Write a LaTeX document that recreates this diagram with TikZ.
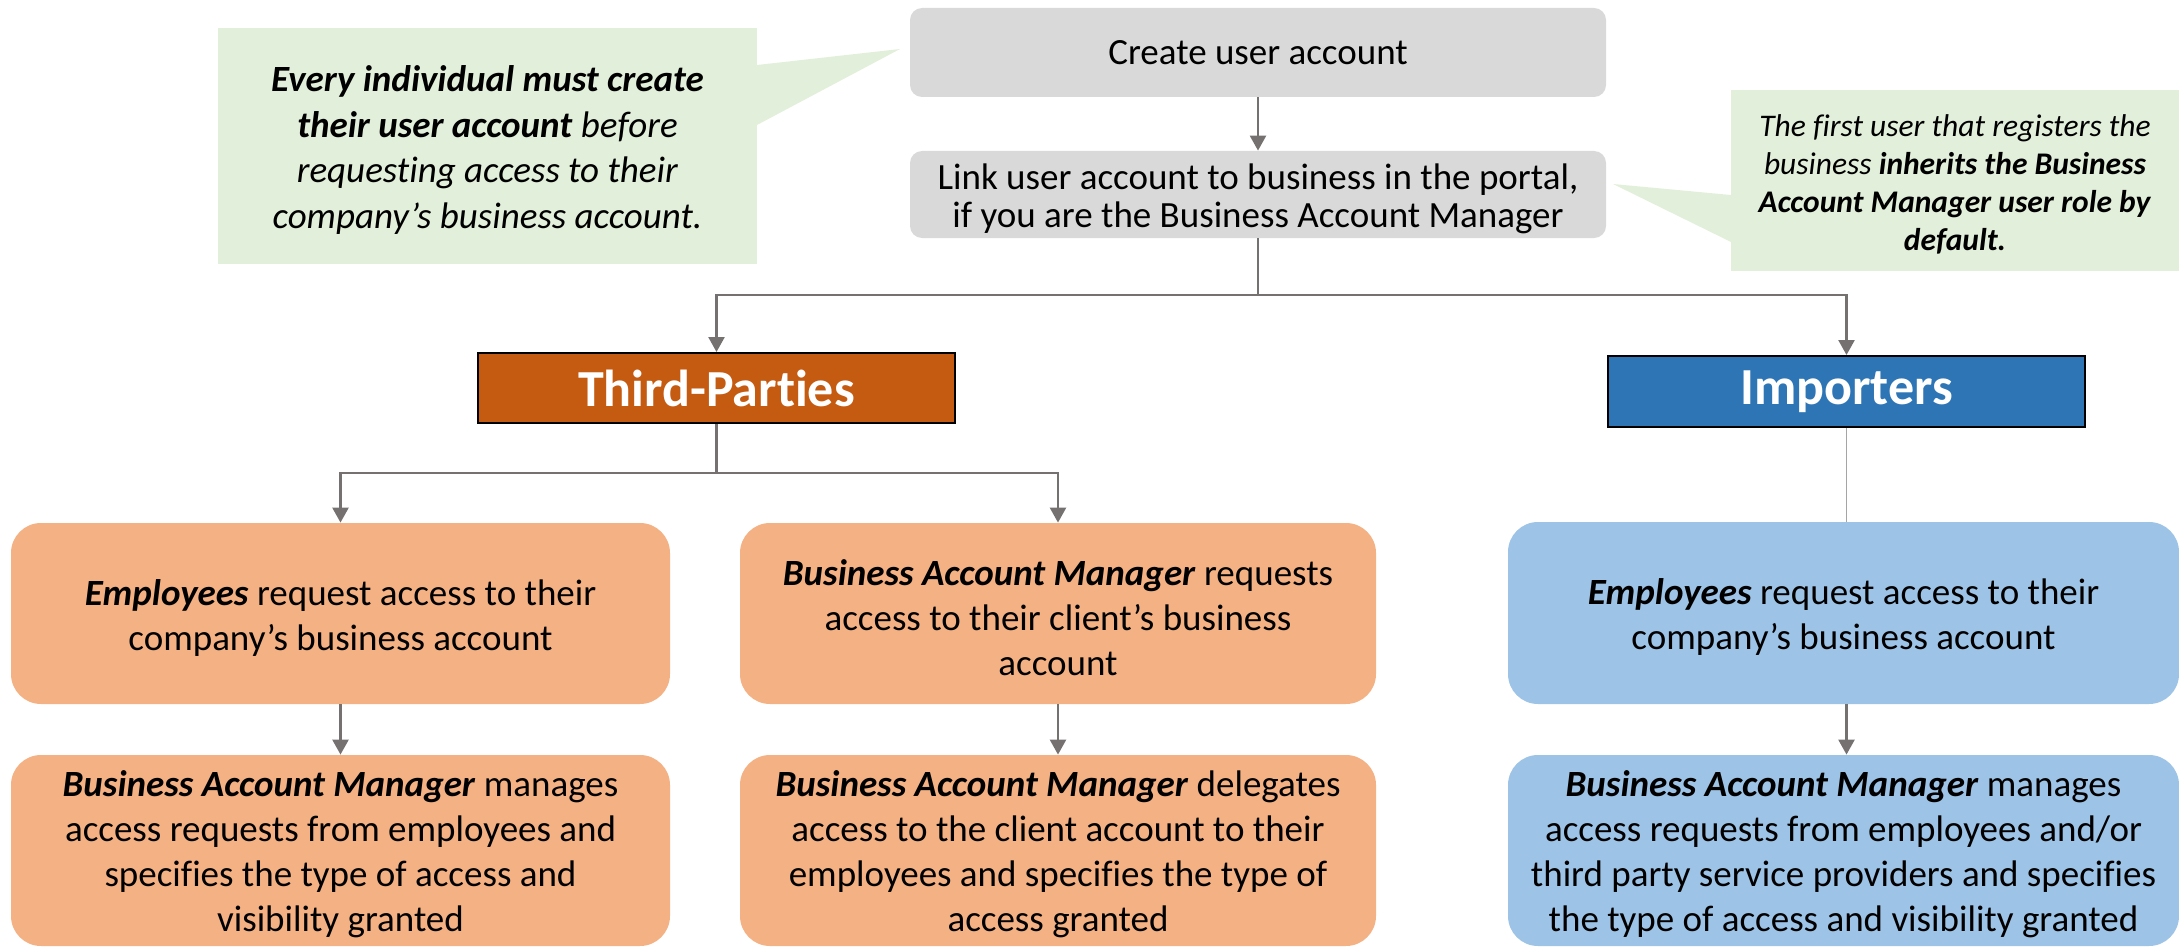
\documentclass[tikz,border=0pt]{standalone}
\usepackage{fontspec}
\setmainfont{Carlito}[Ligatures={NoCommon,NoContextual},Contextuals=NoAlternate]
\usetikzlibrary{arrows.meta}
\definecolor{graybox}{HTML}{D9D9D9}
\definecolor{greencall}{HTML}{E2EFDA}
\definecolor{tpfill}{HTML}{C55A11}
\definecolor{impfill}{HTML}{2E75B6}
\definecolor{orangebox}{HTML}{F4B183}
\definecolor{bluebox}{HTML}{9DC3E6}
\definecolor{connc}{RGB}{118,113,113}
\definecolor{thinc}{RGB}{165,165,165}
\tikzset{
  graynode/.style={fill=graybox, rounded corners=6pt, align=center, inner sep=0pt,
    font=\fontsize{18.5pt}{19pt}\selectfont},
  callout/.style={fill=greencall, align=center, inner sep=0pt},
  headnode/.style={draw=black, line width=1pt, align=center, inner sep=0pt, text=white,
    font=\fontsize{26pt}{30pt}\selectfont\bfseries},
  stagebox/.style={rounded corners=15pt, align=center, inner sep=0pt,
    font=\fontsize{18.5pt}{22.5pt}\selectfont},
  conn/.style={draw=connc, line width=1.25pt},
  arr/.style={conn, -{Triangle[length=7.5pt,width=8pt]}},
  thinline/.style={draw=thinc, line width=0.8pt}
}
\newcommand{\bi}[1]{\textbf{\textit{#1}}}
\newcommand{\sd}{\rule{0pt}{17pt}}
\newcommand{\sds}{\rule{0pt}{15pt}}
\begin{document}
\begin{tikzpicture}[x=0.5pt,y=-0.5pt]
\useasboundingbox (0,0) rectangle (2179,947);
\begin{scope}
\clip (0,0) rectangle (2179,947);
% callouts
\fill[greencall] (757,65) -- (900,49) -- (757,125) -- cycle;
\node[callout, minimum width=269.5pt, minimum height=118pt,
  font=\fontsize{18.5pt}{22.75pt}\selectfont] (callL) at (487.5,146)
  {\sd\bi{Every individual must create}\\ \bi{their user account} \textit{before}\\
   \textit{requesting access to their}\\ \textit{company’s business account.}};
\fill[greencall] (1731,195) -- (1613,184) -- (1731,242) -- cycle;
\node[callout, minimum width=224pt, minimum height=90.5pt,
  font=\fontsize{15.75pt}{18.9pt}\selectfont] (callR) at (1955,180.5)
  {\sds\textit{The first user that registers the}\\ \textit{business} \bi{inherits the Business}\\
   \bi{Account Manager user role by}\\ \bi{default.}};
% top flow
\node[graynode, minimum width=348pt, minimum height=44.5pt] (create) at (1258,52.5)
  {Create user account};
\node[graynode, minimum width=348pt, minimum height=43.5pt] (link) at (1258,194.5)
  {\sd Link user account to business in the portal,\\ if you are the Business Account Manager};
% headers
\node[headnode, fill=tpfill, minimum width=238.5pt, minimum height=35pt] (tp) at (716.5,388)
  {Third-Parties};
\node[headnode, fill=impfill, minimum width=238.5pt, minimum height=35.5pt] (imp) at (1846.5,391.5)
  {Importers};
% stage boxes
\node[stagebox, fill=orangebox, minimum width=329.5pt, minimum height=90.5pt] (o1) at (340.5,613.5)
  {\sd\bi{Employees} request access to their\\ company’s business account};
\node[stagebox, fill=orangebox, minimum width=329.5pt, minimum height=95.5pt] (o2) at (340.5,850.5)
  {\sd\bi{Business Account Manager} manages\\ access requests from employees and\\
   specifies the type of access and\\ visibility granted};
\node[stagebox, fill=orangebox, minimum width=318pt, minimum height=90.5pt] (o3) at (1058,613.5)
  {\sd\bi{Business Account Manager} requests\\ access to their client’s business\\ account};
\node[stagebox, fill=orangebox, minimum width=318pt, minimum height=95.5pt] (o4) at (1058,850.5)
  {\sd\bi{Business Account Manager} delegates\\ access to the client account to their\\
   employees and specifies the type of\\ access granted};
\node[stagebox, fill=bluebox, minimum width=335.5pt, minimum height=91pt] (b1) at (1843.5,613)
  {\sd\bi{Employees} request access to their\\ company’s business account};
\node[stagebox, fill=bluebox, minimum width=335.5pt, minimum height=95.5pt] (b2) at (1843.5,850.5)
  {\sd\bi{Business Account Manager} manages\\ access requests from employees and/or\\
   third party service providers and specifies\\ the type of access and visibility granted};
% connectors
\coordinate (j1) at (1258,295);
\coordinate (j2) at (716.5,473);
\draw[arr] (create) -- (link);
\draw[conn] (link.south) -- (j1);
\draw[arr] (j1) -| (tp.north);
\draw[arr] (j1) -| (imp.north);
\draw[conn] (tp.south) -- (j2);
\draw[arr] (j2) -| (o1.north);
\draw[arr] (j2) -| (o3.north);
\draw[thinline] (imp.south) -- (imp.south |- b1.north);
\draw[arr] (o1) -- (o2);
\draw[arr] (o3) -- (o4);
\draw[arr] (imp.south |- b1.south) -- (imp.south |- b2.north);
\end{scope}
\end{tikzpicture}
\end{document}
